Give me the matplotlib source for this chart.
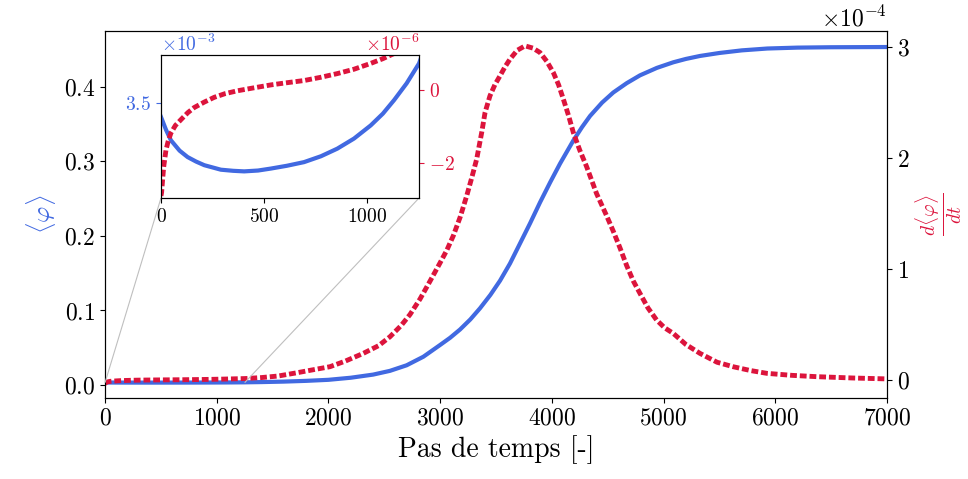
import matplotlib
matplotlib.use('Agg')
import numpy as np
import matplotlib.pyplot as plt
from mpl_toolkits.axes_grid1.inset_locator import mark_inset

plt.rcParams.update({
    'font.family': 'serif',
    'font.serif': ['cmr10'],
    'mathtext.fontset': 'cm',
    'axes.formatter.use_mathtext': True,
})

# <phi> (moyenne) en fonction du pas de temps
t_phi = [0, 24, 48, 90, 129, 170, 210, 290, 350, 403, 470, 532, 610, 693,
         775, 854, 935, 1016, 1075, 1129, 1190, 1250, 1400, 1600, 1800, 2000,
         2200, 2400, 2550, 2700, 2850, 2999, 3090, 3178, 3270, 3357, 3450,
         3536, 3625, 3715, 3805, 3894, 3985, 4073, 4192, 4270, 4342, 4450,
         4550, 4670, 4789, 4940, 5087, 5200, 5326, 5500, 5700, 5930, 6200,
         6500, 7000]
phi = [3.450e-3, 3.405e-3, 3.367e-3, 3.330e-3, 3.307e-3, 3.291e-3, 3.278e-3,
       3.262e-3, 3.258e-3, 3.256e-3, 3.259e-3, 3.266e-3, 3.276e-3, 3.289e-3,
       3.310e-3, 3.337e-3, 3.373e-3, 3.420e-3, 3.462e-3, 3.510e-3, 3.570e-3,
       3.641e-3, 3.95e-3, 4.6e-3, 5.6e-3, 7.0e-3, 9.8e-3, 0.0140, 0.0190,
       0.0265, 0.0380, 0.0537, 0.0635, 0.0745, 0.0880, 0.1030, 0.1210,
       0.1400, 0.1630, 0.1900, 0.2170, 0.2450, 0.2720, 0.2970, 0.3280,
       0.3460, 0.3610, 0.3790, 0.3925, 0.4050, 0.4155, 0.4255, 0.4330,
       0.4375, 0.4415, 0.4455, 0.4490, 0.4515, 0.4527, 0.4532, 0.4535]

# d<phi>/dt, en unites de 1e-6
t_dphi = [0, 3, 8, 13, 24, 35, 48, 70, 97, 130, 161, 210, 258, 310, 371, 450,
          532, 610, 693, 775, 854, 935, 1016, 1075, 1129, 1190, 1250, 1400,
          1550, 1716, 1850, 2014, 2150, 2312, 2450, 2551, 2650, 2730, 2820,
          2909, 2999, 3060, 3118, 3180, 3238, 3285, 3327, 3372, 3402, 3446,
          3490, 3536, 3580, 3625, 3690, 3760, 3830, 3894, 3955, 4013, 4060,
          4103, 4150, 4192, 4250, 4312, 4400, 4490, 4550, 4610, 4670, 4730,
          4789, 4860, 4938, 5010, 5087, 5200, 5326, 5479, 5622, 5780, 5926,
          6150, 6374, 6700, 7000]
dphi_e6 = [-2.9, -2.81, -2.45, -2.11, -1.65, -1.40, -1.18, -0.97, -0.81,
           -0.62, -0.48, -0.33, -0.20, -0.10, -0.02, 0.06, 0.14, 0.20, 0.26,
           0.35, 0.45, 0.57, 0.73, 0.86, 1.0, 1.15, 1.3, 2.2, 3.6, 6.5, 9.0,
           12, 17, 24, 31, 39, 49, 59, 73, 89, 105.5, 117, 130, 147, 166, 183,
           199, 223, 241, 256, 266, 274, 282, 289, 297, 301, 299, 295, 287,
           277, 266, 253, 238, 223, 207, 192, 168, 148, 134, 119, 103, 89, 78,
           65, 54, 47, 42, 32, 24, 16, 12, 8.5, 6, 4.2, 3, 1.8, 1.0]
dphi = np.array(dphi_e6) * 1e-6

blue = 'royalblue'
red = 'crimson'
dots = (0, (1.4, 0.6))

fig = plt.figure(figsize=(9.68, 4.79), dpi=100)
ax = fig.add_axes([0.1085, 0.1691, 0.8078, 0.7662])
ax.plot(t_phi, phi, color=blue, lw=3)
ax.set_xlim(0, 7000)
ax.set_ylim(-0.0174, 0.475)
ax.set_xticks(range(0, 7001, 1000))
ax.set_yticks([0.0, 0.1, 0.2, 0.3, 0.4])
ax.yaxis.set_major_formatter(plt.FormatStrFormatter(r'$%.1f$'))
ax.tick_params(labelsize=17)
ax.set_xlabel('Pas de temps [-]', fontsize=20)
ax.set_ylabel(r'$\langle\varphi\rangle$', color=blue, fontsize=18)

ax2 = ax.twinx()
ax2.plot(t_dphi, dphi, color=red, lw=3.5, ls=dots)
ax2.set_ylim(-0.162e-4, 3.144e-4)
ax2.set_yticks([0, 1e-4, 2e-4, 3e-4])
ax2.ticklabel_format(axis='y', style='sci', scilimits=(0, 0))
ax2.tick_params(labelsize=17)
ax2.yaxis.get_offset_text().set_fontsize(17)
ax2.set_ylabel(r'$\frac{d\langle\varphi\rangle}{dt}$', color=red, fontsize=20)

# zoom sur le debut
axins = fig.add_axes([0.1663, 0.5866, 0.2666, 0.2986])
axins.plot(t_phi, phi, color=blue, lw=3)
axins.set_xlim(0, 1250)
axins.set_ylim(3.161e-3, 3.671e-3)
axins.set_xticks([0, 500, 1000])
axins.set_yticks([3.5e-3])
axins.ticklabel_format(axis='y', style='sci', scilimits=(0, 0))
axins.tick_params(labelsize=14)
axins.tick_params(axis='y', colors=blue)
axins.yaxis.get_offset_text().set_fontsize(14)
axins.yaxis.get_offset_text().set_color(blue)

axins2 = axins.twinx()
axins2.plot(t_dphi, dphi, color=red, lw=3.5, ls=dots)
axins2.set_ylim(-2.96e-6, 0.96e-6)
axins2.set_yticks([-2e-6, 0])
axins2.ticklabel_format(axis='y', style='sci', scilimits=(0, 0))
axins2.tick_params(labelsize=14, colors=red)
axins2.yaxis.get_offset_text().set_fontsize(14)
axins2.yaxis.get_offset_text().set_color(red)
for sp in axins2.spines.values():
    sp.set_color('black')

mark_inset(ax, axins, loc1=3, loc2=4, fc='none', ec='0.75', lw=0.8)

fig.savefig('out.png', dpi=100)
